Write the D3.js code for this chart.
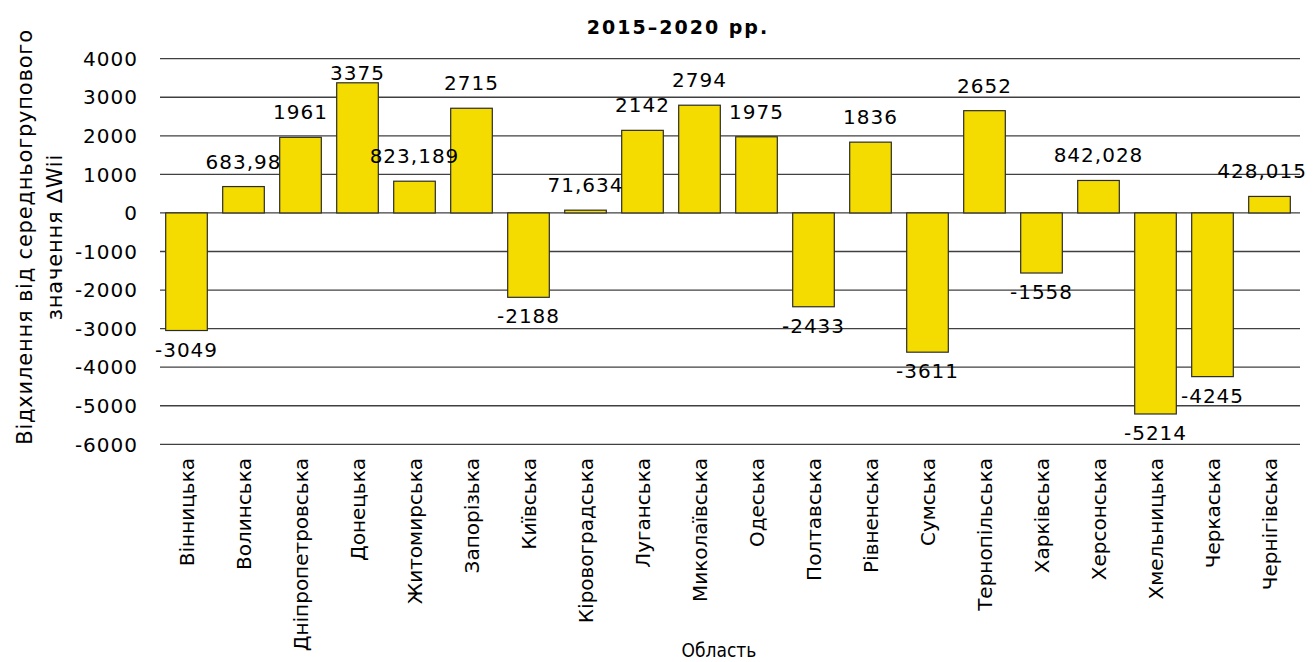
<!DOCTYPE html>
<html>
<head>
<meta charset="utf-8">
<script src="https://cdn.jsdelivr.net/npm/d3@7"></script>
<style>
  body { margin: 0; background: #fff; }
  text { font-family: 'DejaVu Sans', sans-serif; fill: #000; }
</style>
</head>
<body>
<script>
// regions
var regions = ['Вінницька', 'Волинська', 'Дніпропетровська', 'Донецька', 'Житомирська',
  'Запорізька', 'Київська', 'Кіровоградська', 'Луганська', 'Миколаївська',
  'Одеська', 'Полтавська', 'Рівненська', 'Сумська', 'Тернопільська',
  'Харківська', 'Херсонська', 'Хмельницька', 'Черкаська', 'Чернігівська']
// deviation from group mean
var values = [-3049, 683.98, 1961, 3375, 823.189, 2715, -2188, 71.634, 2142, 2794,
  1975, -2433, 1836, -3611, 2652, -1558, 842.028, -5214, -4245, 428.015]
var valueLabels = ['-3049', '683,98', '1961', '3375', '823,189', '2715', '-2188', '71,634', '2142', '2794',
  '1975', '-2433', '1836', '-3611', '2652', '-1558', '842,028', '-5214', '-4245', '428,015']
var yTicks = [4000, 3000, 2000, 1000, 0, -1000, -2000, -3000, -4000, -5000, -6000]

var W = 1313, H = 662
var svg = d3.select('body').append('svg')
  .attr('width', W)
  .attr('height', H)

// scales
var x = d3.scaleBand()
  .domain(regions)
  .range([158, 1298])
  .paddingInner(0.27)
  .paddingOuter(0.135)
var y = d3.scaleLinear()
  .domain([-6000, 4000])
  .range([444.3, 58.7])

// gridlines
svg.append('g')
  .selectAll('line')
  .data(yTicks)
  .enter()
  .append('line')
  .attr('x1', 160)
  .attr('x2', 1300)
  .attr('y1', function (d) { return y(d) })
  .attr('y2', function (d) { return y(d) })
  .attr('stroke', '#404040')
  .attr('stroke-width', 1.3)

// y tick labels
svg.append('g')
  .selectAll('text')
  .data(yTicks)
  .enter()
  .append('text')
  .attr('x', 138)
  .attr('y', function (d) { return y(d) })
  .attr('dy', '0.36em')
  .attr('text-anchor', 'end')
  .style('font-size', '20px')
  .style('letter-spacing', '1px')
  .text(function (d) { return d })

// bars
var data = regions.map(function (r, i) { return { region: r, value: values[i], label: valueLabels[i] } })
svg.append('g')
  .selectAll('rect')
  .data(data)
  .enter()
  .append('rect')
  .attr('x', function (d) { return x(d.region) })
  .attr('width', x.bandwidth())
  .attr('y', function (d) { return y(Math.max(0, d.value)) })
  .attr('height', function (d) { return Math.abs(y(d.value) - y(0)) })
  .attr('fill', '#f5dc00')
  .attr('stroke', '#2b2b2b')
  .attr('stroke-width', 1.2)

// value labels (kept inside the plot area at the top, and inside the page on the right)
svg.append('g')
  .selectAll('text')
  .data(data)
  .enter()
  .append('text')
  .attr('y', function (d) {
    return d.value >= 0 ? Math.max(y(d.value) - 18, y(4000) + 21) : y(d.value) + 26
  })
  .attr('text-anchor', 'middle')
  .style('font-size', '20px')
  .style('letter-spacing', '1px')
  .text(function (d) { return d.label })
  .attr('x', function (d) {
    var cx = x(d.region) + x.bandwidth() / 2
    var half = this.getComputedTextLength() / 2
    return Math.min(cx, W - 6 - half)
  })

// category labels
svg.append('g')
  .selectAll('text')
  .data(regions)
  .enter()
  .append('text')
  .attr('transform', function (d) { return 'translate(' + (x(d) + x.bandwidth() / 2) + ',458) rotate(-90)' })
  .attr('dy', '0.36em')
  .attr('text-anchor', 'end')
  .style('font-size', '20px')
  .text(function (d) { return d })

// title
svg.append('text')
  .attr('x', 678)
  .attr('y', 34)
  .attr('text-anchor', 'middle')
  .style('font-size', '19px')
  .style('font-weight', 'bold')
  .style('letter-spacing', '2px')
  .text('2015–2020 рр.')

// x axis title
svg.append('text')
  .attr('x', 719)
  .attr('y', 657)
  .attr('text-anchor', 'middle')
  .style('font-family', "'DejaVu Sans Condensed', 'DejaVu Sans', sans-serif")
  .style('font-size', '19px')
  .text('Область')

// y axis title
var yTitle = svg.append('text')
  .attr('transform', 'translate(0,237) rotate(-90)')
  .attr('text-anchor', 'middle')
  .style('font-size', '21px')
  .style('letter-spacing', '0.8px')
yTitle.append('tspan').attr('x', 0).attr('y', 32).text('Відхилення від середньогрупового')
yTitle.append('tspan').attr('x', 0).attr('y', 62).text('значення ∆Wii')
</script>
</body>
</html>
